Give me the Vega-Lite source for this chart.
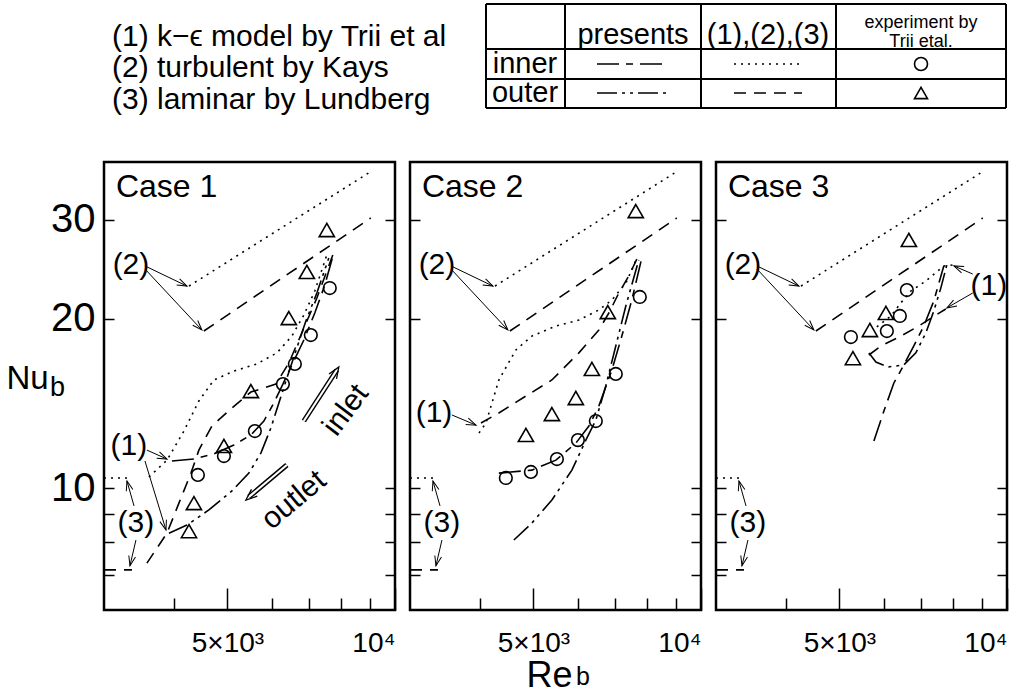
{
  "$schema": "https://vega.github.io/schema/vega-lite/v6.json",
  "padding": 0,
  "background": "white",
  "config": {
    "font": "Liberation Sans",
    "view": {"stroke": "black", "strokeWidth": 2.5},
    "text": {"color": "black"}
  },
  "datasets": {
    "curves": [
      {"p":0,"s":"kin","st":"dot","i":0,"re":4264,"nu":22.88},{"p":0,"s":"kin","st":"dot","i":1,"re":8974,"nu":36.4},
      {"p":0,"s":"kout","st":"dash","i":0,"re":4535,"nu":19.03},{"p":0,"s":"kout","st":"dash","i":1,"re":9047,"nu":30.25},
      {"p":0,"s":"lin","st":"dot","i":0,"re":3000,"nu":10.42},{"p":0,"s":"lin","st":"dot","i":1,"re":3368,"nu":10.42},
      {"p":0,"s":"lout","st":"dash","i":0,"re":3000,"nu":7.15},{"p":0,"s":"lout","st":"dash","i":1,"re":3368,"nu":7.15},

      {"p":1,"s":"k1i","st":"dot","i":0,"re":3613,"nu":10.46},{"p":1,"s":"k1i","st":"dot","i":1,"re":3893,"nu":11.21},{"p":1,"s":"k1i","st":"dot","i":2,"re":4176,"nu":12.63},{"p":1,"s":"k1i","st":"dot","i":3,"re":4442,"nu":14.29},{"p":1,"s":"k1i","st":"dot","i":4,"re":4727,"nu":15.57},{"p":1,"s":"k1i","st":"dot","i":5,"re":5135,"nu":16.15},{"p":1,"s":"k1i","st":"dot","i":6,"re":5647,"nu":16.63},{"p":1,"s":"k1i","st":"dot","i":7,"re":6135,"nu":17.40},{"p":1,"s":"k1i","st":"dot","i":8,"re":6526,"nu":18.64},{"p":1,"s":"k1i","st":"dot","i":9,"re":6858,"nu":20.32},{"p":1,"s":"k1i","st":"dot","i":10,"re":7176,"nu":22.42},{"p":1,"s":"k1i","st":"dot","i":11,"re":7542,"nu":25.99},
      {"p":1,"s":"k1o","st":"dash","i":0,"re":3583,"nu":7.35},{"p":1,"s":"k1o","st":"dash","i":1,"re":3893,"nu":8.31},{"p":1,"s":"k1o","st":"dash","i":2,"re":4090,"nu":9.40},{"p":1,"s":"k1o","st":"dash","i":3,"re":4299,"nu":10.63},{"p":1,"s":"k1o","st":"dash","i":4,"re":4442,"nu":11.68},{"p":1,"s":"k1o","st":"dash","i":5,"re":4688,"nu":12.89},{"p":1,"s":"k1o","st":"dash","i":6,"re":5093,"nu":13.88},{"p":1,"s":"k1o","st":"dash","i":7,"re":5509,"nu":14.82},{"p":1,"s":"k1o","st":"dash","i":8,"re":6109,"nu":15.31},{"p":1,"s":"k1o","st":"dash","i":9,"re":6445,"nu":16.69},{"p":1,"s":"k1o","st":"dash","i":10,"re":6801,"nu":18.88},{"p":1,"s":"k1o","st":"dash","i":11,"re":7238,"nu":21.79},{"p":1,"s":"k1o","st":"dash","i":12,"re":7731,"nu":25.99},
      {"p":1,"s":"p1i","st":"dd","i":0,"re":3974,"nu":11.17},{"p":1,"s":"p1i","st":"dd","i":1,"re":4352,"nu":11.26},{"p":1,"s":"p1i","st":"dd","i":2,"re":4727,"nu":11.50},{"p":1,"s":"p1i","st":"dd","i":3,"re":5135,"nu":11.93},{"p":1,"s":"p1i","st":"dd","i":4,"re":5509,"nu":12.43},{"p":1,"s":"p1i","st":"dd","i":5,"re":5813,"nu":13.16},{"p":1,"s":"p1i","st":"dd","i":6,"re":6059,"nu":14.17},{"p":1,"s":"p1i","st":"dd","i":7,"re":6289,"nu":15.31},{"p":1,"s":"p1i","st":"dd","i":8,"re":6553,"nu":16.69},{"p":1,"s":"p1i","st":"dd","i":9,"re":6858,"nu":18.34},{"p":1,"s":"p1i","st":"dd","i":10,"re":7176,"nu":20.49},{"p":1,"s":"p1i","st":"dd","i":11,"re":7480,"nu":22.98},{"p":1,"s":"p1i","st":"dd","i":12,"re":7763,"nu":26.21},
      {"p":1,"s":"p1o","st":"ddd","i":0,"re":3925,"nu":8.31},{"p":1,"s":"p1o","st":"ddd","i":1,"re":4228,"nu":8.59},{"p":1,"s":"p1o","st":"ddd","i":2,"re":4630,"nu":9.14},{"p":1,"s":"p1o","st":"ddd","i":3,"re":5093,"nu":9.88},{"p":1,"s":"p1o","st":"ddd","i":4,"re":5463,"nu":10.63},{"p":1,"s":"p1o","st":"ddd","i":5,"re":5741,"nu":11.54},{"p":1,"s":"p1o","st":"ddd","i":6,"re":5984,"nu":12.79},{"p":1,"s":"p1o","st":"ddd","i":7,"re":6185,"nu":14.17},{"p":1,"s":"p1o","st":"ddd","i":8,"re":6393,"nu":15.69},{"p":1,"s":"p1o","st":"ddd","i":9,"re":6635,"nu":17.54},{"p":1,"s":"p1o","st":"ddd","i":10,"re":6916,"nu":19.83},{"p":1,"s":"p1o","st":"ddd","i":11,"re":7238,"nu":22.24},{"p":1,"s":"p1o","st":"ddd","i":12,"re":7604,"nu":25.68},

      {"p":2,"s":"k2i","st":"dot","i":0,"re":3991,"nu":12.53},{"p":2,"s":"k2i","st":"dot","i":1,"re":4107,"nu":13.05},{"p":2,"s":"k2i","st":"dot","i":2,"re":4333,"nu":15.57},{"p":2,"s":"k2i","st":"dot","i":3,"re":4649,"nu":17.61},{"p":2,"s":"k2i","st":"dot","i":4,"re":4967,"nu":18.64},{"p":2,"s":"k2i","st":"dot","i":5,"re":5486,"nu":19.43},{"p":2,"s":"k2i","st":"dot","i":6,"re":6034,"nu":19.91},{"p":2,"s":"k2i","st":"dot","i":7,"re":6553,"nu":20.75},{"p":2,"s":"k2i","st":"dot","i":8,"re":6916,"nu":21.61},{"p":2,"s":"k2i","st":"dot","i":9,"re":7327,"nu":23.17},{"p":2,"s":"k2i","st":"dot","i":10,"re":7510,"nu":24.44},{"p":2,"s":"k2i","st":"dot","i":11,"re":7667,"nu":25.68},
      {"p":2,"s":"k2o","st":"dash","i":0,"re":4024,"nu":13.05},{"p":2,"s":"k2o","st":"dash","i":1,"re":4333,"nu":13.60},{"p":2,"s":"k2o","st":"dash","i":2,"re":4846,"nu":14.58},{"p":2,"s":"k2o","st":"dash","i":3,"re":5396,"nu":15.57},{"p":2,"s":"k2o","st":"dash","i":4,"re":6034,"nu":17.40},{"p":2,"s":"k2o","st":"dash","i":5,"re":6553,"nu":19.11},{"p":2,"s":"k2o","st":"dash","i":6,"re":6830,"nu":20.49},{"p":2,"s":"k2o","st":"dash","i":7,"re":7118,"nu":22.24},{"p":2,"s":"k2o","st":"dash","i":8,"re":7418,"nu":23.85},{"p":2,"s":"k2o","st":"dash","i":9,"re":7731,"nu":25.99},
      {"p":2,"s":"p2i","st":"dd","i":0,"re":4333,"nu":10.63},{"p":2,"s":"p2i","st":"dd","i":1,"re":4967,"nu":10.76},{"p":2,"s":"p2i","st":"dd","i":2,"re":5486,"nu":11.21},{"p":2,"s":"p2i","st":"dd","i":3,"re":5958,"nu":12.02},{"p":2,"s":"p2i","st":"dd","i":4,"re":6289,"nu":12.89},{"p":2,"s":"p2i","st":"dd","i":5,"re":6553,"nu":13.99},{"p":2,"s":"p2i","st":"dd","i":6,"re":6916,"nu":16.22},{"p":2,"s":"p2i","st":"dd","i":7,"re":7207,"nu":18.64},{"p":2,"s":"p2i","st":"dd","i":8,"re":7510,"nu":21.61},{"p":2,"s":"p2i","st":"dd","i":9,"re":7828,"nu":25.68},
      {"p":2,"s":"p2o","st":"ddd","i":0,"re":4611,"nu":8.08},{"p":2,"s":"p2o","st":"ddd","i":1,"re":4967,"nu":8.66},{"p":2,"s":"p2o","st":"ddd","i":2,"re":5396,"nu":9.52},{"p":2,"s":"p2o","st":"ddd","i":3,"re":5861,"nu":10.76},{"p":2,"s":"p2o","st":"ddd","i":4,"re":6210,"nu":12.17},{"p":2,"s":"p2o","st":"ddd","i":5,"re":6472,"nu":13.21},{"p":2,"s":"p2o","st":"ddd","i":6,"re":6744,"nu":15.19},{"p":2,"s":"p2o","st":"ddd","i":7,"re":7029,"nu":17.90},{"p":2,"s":"p2o","st":"ddd","i":8,"re":7327,"nu":21.09},{"p":2,"s":"p2o","st":"ddd","i":9,"re":7731,"nu":25.47},

      {"p":3,"s":"k3i","st":"dot","i":0,"re":5836,"nu":19.35},{"p":3,"s":"k3i","st":"dot","i":1,"re":6185,"nu":20.24},{"p":3,"s":"k3i","st":"dot","i":2,"re":6445,"nu":21.35},{"p":3,"s":"k3i","st":"dot","i":3,"re":6716,"nu":22.42},{"p":3,"s":"k3i","st":"dot","i":4,"re":7147,"nu":23.36},{"p":3,"s":"k3i","st":"dot","i":5,"re":7699,"nu":24.85},{"p":3,"s":"k3i","st":"dot","i":6,"re":7993,"nu":24.95},
      {"p":3,"s":"k3o","st":"dash","i":0,"re":5647,"nu":17.25},{"p":3,"s":"k3o","st":"dash","i":1,"re":5934,"nu":17.90},{"p":3,"s":"k3o","st":"dash","i":2,"re":6445,"nu":18.64},{"p":3,"s":"k3o","st":"dash","i":3,"re":6944,"nu":19.43},{"p":3,"s":"k3o","st":"dash","i":4,"re":7357,"nu":20.16},{"p":3,"s":"k3o","st":"dash","i":5,"re":7763,"nu":20.83},
      {"p":3,"s":"p3i","st":"dd","i":0,"re":5765,"nu":12.12},{"p":3,"s":"p3i","st":"dd","i":1,"re":6009,"nu":13.71},{"p":3,"s":"p3i","st":"dd","i":2,"re":6262,"nu":15.38},{"p":3,"s":"p3i","st":"dd","i":3,"re":6526,"nu":16.56},{"p":3,"s":"p3i","st":"dd","i":4,"re":6801,"nu":17.90},{"p":3,"s":"p3i","st":"dd","i":5,"re":7089,"nu":19.43},{"p":3,"s":"p3i","st":"dd","i":6,"re":7387,"nu":21.52},{"p":3,"s":"p3i","st":"dd","i":7,"re":7699,"nu":24.85},
      {"p":3,"s":"p3o","st":"ddd","i":0,"re":5647,"nu":17.40},{"p":3,"s":"p3o","st":"ddd","i":1,"re":5813,"nu":16.76},{"p":3,"s":"p3o","st":"ddd","i":2,"re":6109,"nu":16.42},{"p":3,"s":"p3o","st":"ddd","i":3,"re":6526,"nu":16.56},{"p":3,"s":"p3o","st":"ddd","i":4,"re":6858,"nu":17.40},{"p":3,"s":"p3o","st":"ddd","i":5,"re":7147,"nu":18.88},{"p":3,"s":"p3o","st":"ddd","i":6,"re":7387,"nu":20.66},{"p":3,"s":"p3o","st":"ddd","i":7,"re":7604,"nu":22.69},{"p":3,"s":"p3o","st":"ddd","i":8,"re":7796,"nu":24.95}
    ],
    "circles": [
      {"p":1,"re":4424,"nu":10.55},{"p":1,"re":4927,"nu":11.40},{"p":1,"re":5600,"nu":12.63},{"p":1,"re":6289,"nu":15.31},{"p":1,"re":6608,"nu":16.63},{"p":1,"re":7059,"nu":18.72},{"p":1,"re":7635,"nu":22.70},
      {"p":2,"re":4460,"nu":10.42},{"p":2,"re":4947,"nu":10.68},{"p":2,"re":5509,"nu":11.26},{"p":2,"re":6009,"nu":12.17},{"p":2,"re":6472,"nu":13.16},{"p":2,"re":7029,"nu":15.96},{"p":2,"re":7763,"nu":21.88},
      {"p":3,"re":5242,"nu":18.57},{"p":3,"re":6083,"nu":19.03},{"p":3,"re":6419,"nu":20.24},{"p":3,"re":6608,"nu":22.51}
    ],
    "triangles": [
      {"p":1,"re":4264,"nu":8.38},{"p":1,"re":4352,"nu":9.40},{"p":1,"re":4927,"nu":11.88},{"p":1,"re":5509,"nu":14.88},{"p":1,"re":6445,"nu":20.07},{"p":1,"re":6944,"nu":24.24},{"p":1,"re":7542,"nu":28.79},
      {"p":2,"re":4846,"nu":12.43},{"p":2,"re":5396,"nu":13.54},{"p":2,"re":5958,"nu":14.46},{"p":2,"re":6367,"nu":16.29},{"p":2,"re":6801,"nu":20.57},{"p":2,"re":7635,"nu":31.12},
      {"p":3,"re":5286,"nu":17.03},{"p":3,"re":5671,"nu":19.11},{"p":3,"re":6059,"nu":20.49},{"p":3,"re":6663,"nu":27.64}
    ],
    "arrows": [
      {"p":0,"a":"a2u","i":0,"re":3554,"nu":24.85},{"p":0,"a":"a2u","i":1,"re":4228,"nu":22.88},
      {"p":0,"a":"a2l","i":0,"re":3554,"nu":24.54},{"p":0,"a":"a2l","i":1,"re":4498,"nu":19.11},
      {"p":0,"a":"a3u","i":0,"re":3397,"nu":9.29},{"p":0,"a":"a3u","i":1,"re":3299,"nu":10.29},
      {"p":0,"a":"a3l","i":0,"re":3424,"nu":8.08},{"p":0,"a":"a3l","i":1,"re":3340,"nu":7.27},
      {"p":1,"a":"a1u","i":0,"re":3583,"nu":11.68},{"p":1,"a":"a1u","i":1,"re":3893,"nu":11.26},
      {"p":1,"a":"a1l","i":0,"re":3554,"nu":11.17},{"p":1,"a":"a1l","i":1,"re":3877,"nu":8.42},
      {"p":2,"a":"b1","i":0,"re":3568,"nu":13.49},{"p":2,"a":"b1","i":1,"re":3942,"nu":12.94},
      {"p":3,"a":"c1u","i":0,"re":8678,"nu":24.04},{"p":3,"a":"c1u","i":1,"re":8026,"nu":24.85},
      {"p":3,"a":"c1l","i":0,"re":8678,"nu":22.24},{"p":3,"a":"c1l","i":1,"re":7796,"nu":20.92}
    ],
    "heads": [
      {"p":0,"re":4228,"nu":22.88,"ang":115.5},{"p":0,"re":4498,"nu":19.11,"ang":136.9},{"p":0,"re":3299,"nu":10.29,"ang":-15.6},{"p":0,"re":3340,"nu":7.27,"ang":-167},
      {"p":1,"re":3893,"nu":11.26,"ang":114.2},{"p":1,"re":3877,"nu":8.42,"ang":163.1},
      {"p":2,"re":3942,"nu":12.94,"ang":112.6},
      {"p":3,"re":8026,"nu":24.85,"ang":-67.2},{"p":3,"re":7796,"nu":20.92,"ang":-120}
    ],
    "bigheads": [
      {"p":1,"re":7926,"nu":16.42,"ang":32.9},{"p":1,"re":5396,"nu":9.52,"ang":-130.5}
    ],
    "darrows": [
      {"p":1,"a":"in","i":0,"re":6858,"nu":13.16},{"p":1,"a":"in","i":1,"re":7861,"nu":16.22},
      {"p":1,"a":"out","i":0,"re":6393,"nu":10.99},{"p":1,"a":"out","i":1,"re":5463,"nu":9.64}
    ],
    "labels": [
      {"p":0,"t":"(2)","re":3354,"nu":24.95,"ang":0},{"p":0,"t":"(3)","re":3424,"nu":8.66,"ang":0},
      {"p":1,"t":"(1)","re":3326,"nu":11.88,"ang":0},{"p":1,"t":"inlet","re":8159,"nu":13.76,"ang":-53},{"p":1,"t":"outlet","re":6581,"nu":9.52,"ang":-40},
      {"p":2,"t":"(1)","re":3313,"nu":13.60,"ang":0},
      {"p":3,"t":"(1)","re":9275,"nu":22.88,"ang":0}
    ],
    "cases": [
      {"p":1,"t":"Case 1","re":3152,"nu":32.97},{"p":2,"t":"Case 2","re":3152,"nu":32.97},{"p":3,"t":"Case 3","re":3152,"nu":32.97}
    ],
    "subs": [
      {"p":1,"t":"b","re":2400,"nu":14.58},{"p":2,"t":"b","re":5960,"nu":4.46}
    ],
    "tlines": [
      {"x":487,"y":4,"x2":1007,"y2":4},{"x":487,"y":108,"x2":1007,"y2":108},{"x":487,"y":49,"x2":1007,"y2":49},{"x":487,"y":79,"x2":1007,"y2":79},
      {"x":487,"y":4,"x2":487,"y2":108},{"x":566,"y":4,"x2":566,"y2":108},{"x":702,"y":4,"x2":702,"y2":108},{"x":837,"y":4,"x2":837,"y2":108},{"x":1007,"y":4,"x2":1007,"y2":108}
    ],
    "tsamp": [
      {"x":598,"x2":670,"y":64,"st":"dd"},{"x":598,"x2":670,"y":93,"st":"ddd"},{"x":735,"x2":803,"y":64,"st":"dot"},{"x":735,"x2":803,"y":93,"st":"dash"}
    ],
    "tcell": [
      {"x":634,"y":35,"t":"presents"},{"x":769,"y":35,"t":"(1),(2),(3)"},{"x":526,"y":64,"t":"inner"},{"x":526,"y":93,"t":"outer"}
    ],
    "tsmall": [
      {"x":922,"y":23,"t":"experiment by"},{"x":922,"y":42,"t":"Trii etal."}
    ],
    "tleg": [
      {"x":113,"y":37,"t":"(1)  k−ϵ model by Trii et al"},{"x":113,"y":68,"t":"(2)  turbulent by Kays"},{"x":113,"y":100,"t":"(3)  laminar by Lundberg"}
    ],
    "tsym": [
      {"x":922,"y":64,"k":"o"},{"x":922,"y":93,"k":"t"}
    ]
  },
  "spacing": 45,
  "vconcat": [
    {
      "width": 925,
      "height": 110,
      "view": {"stroke": null},
      "layer": [
        {
          "data": {"name": "tlines"},
          "mark": {"type": "rule", "color": "black", "strokeWidth": 2},
          "encoding": {
            "x": {"field": "x", "type": "quantitative", "scale": {"domain": [105, 1030], "nice": false, "zero": false}, "axis": null},
            "y": {"field": "y", "type": "quantitative", "scale": {"domain": [0, 110], "nice": false, "zero": false, "reverse": true}, "axis": null},
            "x2": {"field": "x2"},
            "y2": {"field": "y2"}
          }
        },
        {
          "data": {"name": "tsamp"},
          "mark": {"type": "rule", "color": "black", "strokeWidth": 1.6},
          "encoding": {
            "x": {"field": "x", "type": "quantitative"},
            "x2": {"field": "x2"},
            "y": {"field": "y", "type": "quantitative"},
            "strokeDash": {"field": "st", "type": "nominal", "scale": {"domain": ["dot", "dash", "dd", "ddd"], "range": [[2, 5], [12, 8], [22, 7, 7, 7], [20, 5, 3, 5, 3, 5]]}, "legend": null}
          }
        },
        {
          "data": {"name": "tcell"},
          "mark": {"type": "text", "fontSize": 29, "align": "center", "baseline": "middle"},
          "encoding": {
            "x": {"field": "x", "type": "quantitative"},
            "y": {"field": "y", "type": "quantitative"},
            "text": {"field": "t"}
          }
        },
        {
          "data": {"name": "tsmall"},
          "mark": {"type": "text", "fontSize": 18, "align": "center", "baseline": "middle"},
          "encoding": {
            "x": {"field": "x", "type": "quantitative"},
            "y": {"field": "y", "type": "quantitative"},
            "text": {"field": "t"}
          }
        },
        {
          "data": {"name": "tleg"},
          "mark": {"type": "text", "fontSize": 30, "align": "left", "baseline": "middle"},
          "encoding": {
            "x": {"field": "x", "type": "quantitative"},
            "y": {"field": "y", "type": "quantitative"},
            "text": {"field": "t"}
          }
        },
        {
          "data": {"name": "tsym"},
          "mark": {"type": "point", "filled": false, "color": "black", "strokeWidth": 1.6, "size": 170, "opacity": 1},
          "encoding": {
            "x": {"field": "x", "type": "quantitative"},
            "y": {"field": "y", "type": "quantitative"},
            "shape": {"field": "k", "type": "nominal", "scale": {"domain": ["o", "t"], "range": ["circle", "triangle-up"]}, "legend": null}
          }
        }
      ]
    },
    {
      "spacing": 11,
      "hconcat": [
        {
          "width": 291, "height": 448,
          "resolve": {"axis": {"x": "independent", "y": "independent"}},
          "layer": [
            {
              "data": {"name": "curves"},
              "transform": [{"filter": "datum.p == 0 || datum.p == 1"}],
              "mark": {"type": "line", "color": "black", "strokeWidth": 1.6, "clip": true},
              "encoding": {
                "x": {"field": "re", "type": "quantitative", "scale": {"type": "log", "domain": [3000, 10000], "nice": false}, "axis": {"orient": "bottom", "values": [4000, 6000, 7000, 8000, 9000], "labels": false, "tickSize": -12, "tickWidth": 1.5, "tickColor": "black", "domain": false, "grid": false, "title": null}},
                "y": {"field": "nu", "type": "quantitative", "scale": {"type": "log", "domain": [6.065, 38.05], "nice": false}, "axis": {"orient": "left", "values": [7, 8, 9, 10, 20, 30], "tickSize": -10, "tickWidth": 1.5, "tickColor": "black", "domain": false, "grid": false, "labelExpr": "datum.value >= 10 ? format(datum.value, 'd') : ''", "labelFontSize": 40, "labelPadding": 19, "labelColor": "black", "labelBaseline": "middle", "title": "Nu", "titleAngle": 0, "titleX": -98, "titleY": 226, "titleAlign": "left", "titleBaseline": "alphabetic", "titleFontSize": 33, "titleFontWeight": "normal", "titleColor": "black", "minExtent": 102, "maxExtent": 102}},
                "detail": {"field": "s", "type": "nominal"},
                "order": {"field": "i", "type": "quantitative"},
                "strokeDash": {"field": "st", "type": "nominal", "scale": {"domain": ["dot", "dash", "dd", "ddd"], "range": [[2, 5], [12, 8], [20, 6, 4, 6], [20, 5, 3, 5, 3, 5]]}, "legend": null}
              }
            },
            {
              "data": {"name": "circles"},
              "transform": [{"filter": "datum.p == 1"}],
              "mark": {"type": "point", "shape": "circle", "filled": false, "color": "black", "strokeWidth": 1.6, "size": 160, "opacity": 1},
              "encoding": {
                "x": {"field": "re", "type": "quantitative", "axis": {"orient": "bottom", "values": [5000, 10000], "tickSize": -22, "tickWidth": 1.5, "tickColor": "black", "domain": false, "grid": false, "labelExpr": "datum.value == 5000 ? '5×10³' : '10⁴'", "labelFontSize": 28, "labelPadding": 41, "labelFlush": true, "labelColor": "black", "title": null}},
                "y": {"field": "nu", "type": "quantitative", "axis": {"orient": "right", "values": [7, 8, 9, 10, 20, 30], "labels": false, "tickSize": -10, "tickWidth": 1.5, "tickColor": "black", "domain": false, "grid": false, "title": null, "minExtent": 0, "maxExtent": 0}}
              }
            },
            {
              "data": {"name": "triangles"},
              "transform": [{"filter": "datum.p == 1"}],
              "mark": {"type": "point", "shape": "triangle-up", "filled": false, "color": "black", "strokeWidth": 1.6, "size": 230, "opacity": 1},
              "encoding": {
                "x": {"field": "re", "type": "quantitative", "axis": null},
                "y": {"field": "nu", "type": "quantitative", "axis": null}
              }
            },
            {
              "data": {"name": "arrows"},
              "transform": [{"filter": "datum.p == 0 || datum.p == 1"}],
              "mark": {"type": "line", "color": "black", "strokeWidth": 1},
              "encoding": {
                "x": {"field": "re", "type": "quantitative", "axis": null},
                "y": {"field": "nu", "type": "quantitative", "axis": null},
                "detail": {"field": "a", "type": "nominal"},
                "order": {"field": "i", "type": "quantitative"}
              }
            },
            {
              "data": {"name": "heads"},
              "transform": [{"filter": "datum.p == 0 || datum.p == 1"}],
              "mark": {"type": "point", "shape": "M -0.35 1 L 0 0 L 0.35 1", "filled": false, "color": "black", "strokeWidth": 1, "size": 380, "opacity": 1},
              "encoding": {
                "x": {"field": "re", "type": "quantitative", "axis": null},
                "y": {"field": "nu", "type": "quantitative", "axis": null},
                "angle": {"field": "ang", "type": "quantitative", "scale": null}
              }
            },
            {
              "data": {"name": "darrows"},
              "mark": {"type": "line", "color": "black", "strokeWidth": 5},
              "encoding": {
                "x": {"field": "re", "type": "quantitative", "axis": null},
                "y": {"field": "nu", "type": "quantitative", "axis": null},
                "detail": {"field": "a", "type": "nominal"},
                "order": {"field": "i", "type": "quantitative"}
              }
            },
            {
              "data": {"name": "darrows"},
              "mark": {"type": "line", "color": "white", "strokeWidth": 2.2},
              "encoding": {
                "x": {"field": "re", "type": "quantitative", "axis": null},
                "y": {"field": "nu", "type": "quantitative", "axis": null},
                "detail": {"field": "a", "type": "nominal"},
                "order": {"field": "i", "type": "quantitative"}
              }
            },
            {
              "data": {"name": "bigheads"},
              "mark": {"type": "point", "shape": "M -0.4 1 L 0 0 L 0.4 1", "filled": false, "color": "black", "strokeWidth": 1.3, "size": 500, "opacity": 1},
              "encoding": {
                "x": {"field": "re", "type": "quantitative", "axis": null},
                "y": {"field": "nu", "type": "quantitative", "axis": null},
                "angle": {"field": "ang", "type": "quantitative", "scale": null}
              }
            },
            {
              "data": {"name": "labels"},
              "transform": [{"filter": "datum.p == 0 || datum.p == 1"}],
              "mark": {"type": "text", "fontSize": 30, "align": "center", "baseline": "middle"},
              "encoding": {
                "x": {"field": "re", "type": "quantitative", "axis": null},
                "y": {"field": "nu", "type": "quantitative", "axis": null},
                "text": {"field": "t"},
                "angle": {"field": "ang", "type": "quantitative", "scale": null}
              }
            },
            {
              "data": {"name": "cases"},
              "transform": [{"filter": "datum.p == 1"}],
              "mark": {"type": "text", "fontSize": 32, "align": "left", "baseline": "alphabetic"},
              "encoding": {
                "x": {"field": "re", "type": "quantitative", "axis": null},
                "y": {"field": "nu", "type": "quantitative", "axis": null},
                "text": {"field": "t"}
              }
            },
            {
              "data": {"name": "subs"},
              "transform": [{"filter": "datum.p == 1"}],
              "mark": {"type": "text", "fontSize": 27, "align": "left", "baseline": "alphabetic"},
              "encoding": {
                "x": {"field": "re", "type": "quantitative", "axis": null},
                "y": {"field": "nu", "type": "quantitative", "axis": null},
                "text": {"field": "t"}
              }
            }
          ]
        },
        {
          "width": 291, "height": 448,
          "resolve": {"axis": {"x": "independent", "y": "independent"}},
          "layer": [
            {
              "data": {"name": "curves"},
              "transform": [{"filter": "datum.p == 0 || datum.p == 2"}],
              "mark": {"type": "line", "color": "black", "strokeWidth": 1.6, "clip": true},
              "encoding": {
                "x": {"field": "re", "type": "quantitative", "scale": {"type": "log", "domain": [3000, 10000], "nice": false}, "axis": {"orient": "bottom", "values": [4000, 6000, 7000, 8000, 9000], "labels": false, "tickSize": -12, "tickWidth": 1.5, "tickColor": "black", "domain": false, "grid": false, "title": null}},
                "y": {"field": "nu", "type": "quantitative", "scale": {"type": "log", "domain": [6.065, 38.05], "nice": false}, "axis": {"orient": "left", "values": [7, 8, 9, 10, 20, 30], "labels": false, "tickSize": -10, "tickWidth": 1.5, "tickColor": "black", "domain": false, "grid": false, "title": null, "minExtent": 0, "maxExtent": 0}},
                "detail": {"field": "s", "type": "nominal"},
                "order": {"field": "i", "type": "quantitative"},
                "strokeDash": {"field": "st", "type": "nominal", "scale": {"domain": ["dot", "dash", "dd", "ddd"], "range": [[2, 5], [12, 8], [20, 6, 4, 6], [20, 5, 3, 5, 3, 5]]}, "legend": null}
              }
            },
            {
              "data": {"name": "circles"},
              "transform": [{"filter": "datum.p == 2"}],
              "mark": {"type": "point", "shape": "circle", "filled": false, "color": "black", "strokeWidth": 1.6, "size": 160, "opacity": 1},
              "encoding": {
                "x": {"field": "re", "type": "quantitative", "axis": {"orient": "bottom", "values": [5000, 10000], "tickSize": -22, "tickWidth": 1.5, "tickColor": "black", "domain": false, "grid": false, "labelExpr": "datum.value == 5000 ? '5×10³' : '10⁴'", "labelFontSize": 28, "labelPadding": 41, "labelFlush": true, "labelColor": "black", "title": "Re", "titleX": 139, "titleY": 76, "titleBaseline": "alphabetic", "titleFontSize": 36, "titleFontWeight": "normal", "titleColor": "black"}},
                "y": {"field": "nu", "type": "quantitative", "axis": {"orient": "right", "values": [7, 8, 9, 10, 20, 30], "labels": false, "tickSize": -10, "tickWidth": 1.5, "tickColor": "black", "domain": false, "grid": false, "title": null, "minExtent": 0, "maxExtent": 0}}
              }
            },
            {
              "data": {"name": "triangles"},
              "transform": [{"filter": "datum.p == 2"}],
              "mark": {"type": "point", "shape": "triangle-up", "filled": false, "color": "black", "strokeWidth": 1.6, "size": 230, "opacity": 1},
              "encoding": {
                "x": {"field": "re", "type": "quantitative", "axis": null},
                "y": {"field": "nu", "type": "quantitative", "axis": null}
              }
            },
            {
              "data": {"name": "arrows"},
              "transform": [{"filter": "datum.p == 0 || datum.p == 2"}],
              "mark": {"type": "line", "color": "black", "strokeWidth": 1},
              "encoding": {
                "x": {"field": "re", "type": "quantitative", "axis": null},
                "y": {"field": "nu", "type": "quantitative", "axis": null},
                "detail": {"field": "a", "type": "nominal"},
                "order": {"field": "i", "type": "quantitative"}
              }
            },
            {
              "data": {"name": "heads"},
              "transform": [{"filter": "datum.p == 0 || datum.p == 2"}],
              "mark": {"type": "point", "shape": "M -0.35 1 L 0 0 L 0.35 1", "filled": false, "color": "black", "strokeWidth": 1, "size": 380, "opacity": 1},
              "encoding": {
                "x": {"field": "re", "type": "quantitative", "axis": null},
                "y": {"field": "nu", "type": "quantitative", "axis": null},
                "angle": {"field": "ang", "type": "quantitative", "scale": null}
              }
            },
            {
              "data": {"name": "labels"},
              "transform": [{"filter": "datum.p == 0 || datum.p == 2"}],
              "mark": {"type": "text", "fontSize": 30, "align": "center", "baseline": "middle"},
              "encoding": {
                "x": {"field": "re", "type": "quantitative", "axis": null},
                "y": {"field": "nu", "type": "quantitative", "axis": null},
                "text": {"field": "t"},
                "angle": {"field": "ang", "type": "quantitative", "scale": null}
              }
            },
            {
              "data": {"name": "cases"},
              "transform": [{"filter": "datum.p == 2"}],
              "mark": {"type": "text", "fontSize": 32, "align": "left", "baseline": "alphabetic"},
              "encoding": {
                "x": {"field": "re", "type": "quantitative", "axis": null},
                "y": {"field": "nu", "type": "quantitative", "axis": null},
                "text": {"field": "t"}
              }
            },
            {
              "data": {"name": "subs"},
              "transform": [{"filter": "datum.p == 2"}],
              "mark": {"type": "text", "fontSize": 25, "align": "left", "baseline": "alphabetic"},
              "encoding": {
                "x": {"field": "re", "type": "quantitative", "axis": null},
                "y": {"field": "nu", "type": "quantitative", "axis": null},
                "text": {"field": "t"}
              }
            }
          ]
        },
        {
          "width": 291, "height": 448,
          "resolve": {"axis": {"x": "independent", "y": "independent"}},
          "layer": [
            {
              "data": {"name": "curves"},
              "transform": [{"filter": "datum.p == 0 || datum.p == 3"}],
              "mark": {"type": "line", "color": "black", "strokeWidth": 1.6, "clip": true},
              "encoding": {
                "x": {"field": "re", "type": "quantitative", "scale": {"type": "log", "domain": [3000, 10000], "nice": false}, "axis": {"orient": "bottom", "values": [4000, 6000, 7000, 8000, 9000], "labels": false, "tickSize": -12, "tickWidth": 1.5, "tickColor": "black", "domain": false, "grid": false, "title": null}},
                "y": {"field": "nu", "type": "quantitative", "scale": {"type": "log", "domain": [6.065, 38.05], "nice": false}, "axis": {"orient": "left", "values": [7, 8, 9, 10, 20, 30], "labels": false, "tickSize": -10, "tickWidth": 1.5, "tickColor": "black", "domain": false, "grid": false, "title": null, "minExtent": 0, "maxExtent": 0}},
                "detail": {"field": "s", "type": "nominal"},
                "order": {"field": "i", "type": "quantitative"},
                "strokeDash": {"field": "st", "type": "nominal", "scale": {"domain": ["dot", "dash", "dd", "ddd"], "range": [[2, 5], [12, 8], [20, 6, 4, 6], [20, 5, 3, 5, 3, 5]]}, "legend": null}
              }
            },
            {
              "data": {"name": "circles"},
              "transform": [{"filter": "datum.p == 3"}],
              "mark": {"type": "point", "shape": "circle", "filled": false, "color": "black", "strokeWidth": 1.6, "size": 160, "opacity": 1},
              "encoding": {
                "x": {"field": "re", "type": "quantitative", "axis": {"orient": "bottom", "values": [5000, 10000], "tickSize": -22, "tickWidth": 1.5, "tickColor": "black", "domain": false, "grid": false, "labelExpr": "datum.value == 5000 ? '5×10³' : '10⁴'", "labelFontSize": 28, "labelPadding": 41, "labelFlush": true, "labelColor": "black", "title": null}},
                "y": {"field": "nu", "type": "quantitative", "axis": {"orient": "right", "values": [7, 8, 9, 10, 20, 30], "labels": false, "tickSize": -10, "tickWidth": 1.5, "tickColor": "black", "domain": false, "grid": false, "title": null, "minExtent": 0, "maxExtent": 0}}
              }
            },
            {
              "data": {"name": "triangles"},
              "transform": [{"filter": "datum.p == 3"}],
              "mark": {"type": "point", "shape": "triangle-up", "filled": false, "color": "black", "strokeWidth": 1.6, "size": 230, "opacity": 1},
              "encoding": {
                "x": {"field": "re", "type": "quantitative", "axis": null},
                "y": {"field": "nu", "type": "quantitative", "axis": null}
              }
            },
            {
              "data": {"name": "arrows"},
              "transform": [{"filter": "datum.p == 0 || datum.p == 3"}],
              "mark": {"type": "line", "color": "black", "strokeWidth": 1},
              "encoding": {
                "x": {"field": "re", "type": "quantitative", "axis": null},
                "y": {"field": "nu", "type": "quantitative", "axis": null},
                "detail": {"field": "a", "type": "nominal"},
                "order": {"field": "i", "type": "quantitative"}
              }
            },
            {
              "data": {"name": "heads"},
              "transform": [{"filter": "datum.p == 0 || datum.p == 3"}],
              "mark": {"type": "point", "shape": "M -0.35 1 L 0 0 L 0.35 1", "filled": false, "color": "black", "strokeWidth": 1, "size": 380, "opacity": 1},
              "encoding": {
                "x": {"field": "re", "type": "quantitative", "axis": null},
                "y": {"field": "nu", "type": "quantitative", "axis": null},
                "angle": {"field": "ang", "type": "quantitative", "scale": null}
              }
            },
            {
              "data": {"name": "labels"},
              "transform": [{"filter": "datum.p == 0 || datum.p == 3"}],
              "mark": {"type": "text", "fontSize": 30, "align": "center", "baseline": "middle"},
              "encoding": {
                "x": {"field": "re", "type": "quantitative", "axis": null},
                "y": {"field": "nu", "type": "quantitative", "axis": null},
                "text": {"field": "t"},
                "angle": {"field": "ang", "type": "quantitative", "scale": null}
              }
            },
            {
              "data": {"name": "cases"},
              "transform": [{"filter": "datum.p == 3"}],
              "mark": {"type": "text", "fontSize": 32, "align": "left", "baseline": "alphabetic"},
              "encoding": {
                "x": {"field": "re", "type": "quantitative", "axis": null},
                "y": {"field": "nu", "type": "quantitative", "axis": null},
                "text": {"field": "t"}
              }
            }
          ]
        }
      ]
    }
  ]
}
